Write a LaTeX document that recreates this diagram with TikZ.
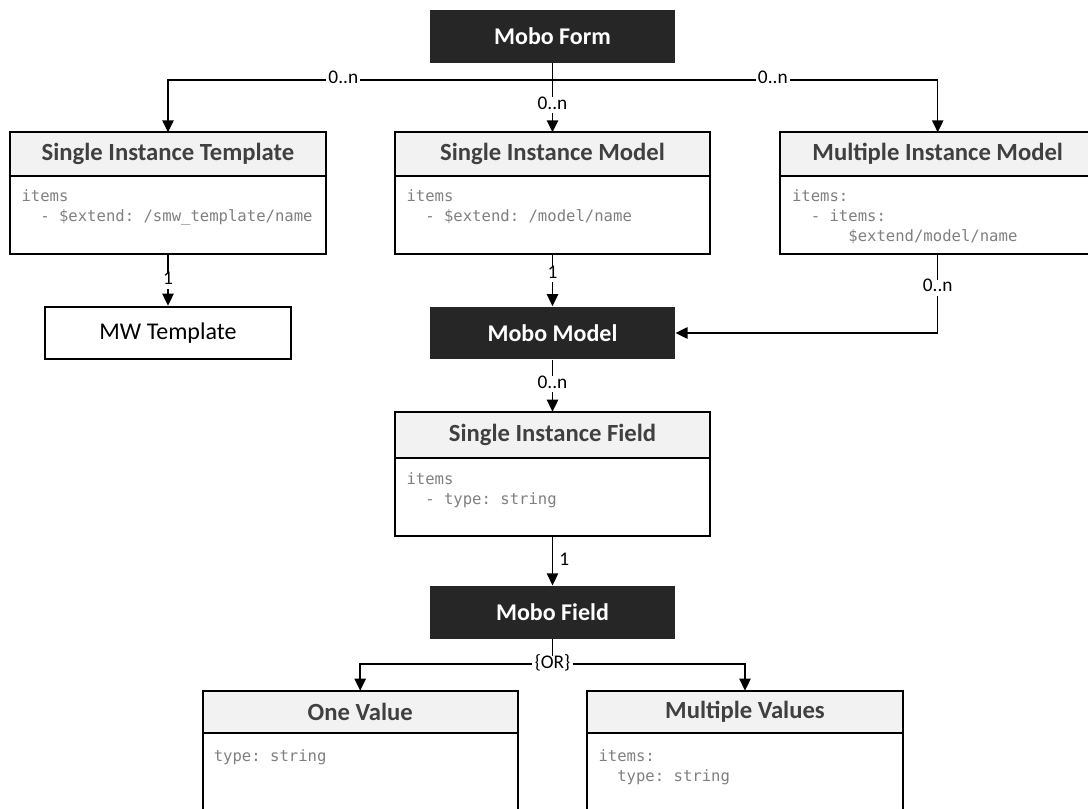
\documentclass[tikz,border=0pt]{standalone}
\usepackage{fontspec}
\setmainfont{Carlito}
\newfontfamily\codefont{DejaVu Sans Mono}
\usetikzlibrary{arrows.meta}
\frenchspacing
\definecolor{boxdark}{HTML}{262626}
\definecolor{headfill}{HTML}{F2F2F2}
\definecolor{headtext}{HTML}{404040}
\definecolor{codegray}{HTML}{7F7F7F}
\tikzset{every picture/.style={line width=0.75pt}}
\tikzset{
  darkbox/.style={fill=boxdark, text=white, font=\fontsize{18pt}{21pt}\selectfont\bfseries, minimum width=183.75pt, minimum height=39.45pt, inner sep=0pt},
  plainbox/.style={draw, line width=1.5pt, font=\fontsize{18pt}{21pt}\selectfont, minimum width=184pt, minimum height=39.45pt, inner sep=0pt},
  classhead/.style={draw, line width=1.5pt, fill=headfill, text=headtext, font=\fontsize{18.5pt}{21pt}\selectfont\bfseries, minimum width=236.5pt, minimum height=32.55pt, inner sep=0pt, outer sep=0pt},
  classbody/.style={draw, line width=1.5pt, minimum width=236.5pt, minimum height=59pt, inner sep=0pt, outer sep=0pt, anchor=north},
  codeline/.style={anchor=base west, inner sep=0pt, text=codegray, font=\codefont\fontsize{11.7pt}{15pt}\selectfont},
  conn/.style={line width=1.125pt, -{Triangle[length=9pt,width=8.5pt]}},
  plainline/.style={line width=1.125pt},
  cardlabel/.style={fill=white, inner xsep=1.5pt, inner ysep=0pt, text height=0.9em, text depth=0.3em, font=\fontsize{14.5pt}{17pt}\selectfont},
  cardside/.style={anchor=west, inner sep=0pt, xshift=4.5pt, font=\fontsize{14.5pt}{17pt}\selectfont},
}

\begin{document}
\begin{tikzpicture}[x=0.75pt,y=0.75pt,yscale=-1,xscale=1]
\useasboundingbox (0,0) rectangle (1088,809);
\clip (0,0) rectangle (1088,809);

%Shape: Rectangle
\node[darkbox] (form) at (552.5,36.35) {Mobo Form};
\coordinate (fork) at (552.5,80);

%Shape: Class Single Instance Template
\node[classhead] (sit) at (168,154) {Single Instance Template};
\node[classbody] (sitb) at (sit.south) {};
% Text Node
\node[codeline] (sitl1) at (21,201.7) {items};
\node[codeline] (sitl2) at (21,221.7) {\phantom{xx}- \$extend: /smw\_template/name};

%Shape: Class Single Instance Model
\node[classhead] (sim) at (552.5,154) {Single Instance Model};
\node[classbody] (simb) at (sim.south) {};
% Text Node
\node[codeline] (siml1) at (406,201.7) {items};
\node[codeline] (siml2) at (406,221.7) {\phantom{xx}- \$extend: /model/name};

%Shape: Class Multiple Instance Model
\node[classhead] (mim) at (937.7,154) {Multiple Instance Model};
\node[classbody] (mimb) at (mim.south) {};
% Text Node
\node[codeline] (miml1) at (791.5,201.7) {items:};
\node[codeline] (miml2) at (791.5,221.7) {\phantom{xx}- items:};
\node[codeline] (miml3) at (791.5,241.7) {\phantom{xxxxxx}\$extend/model/name};

%Shape: Rectangle
\node[plainbox] (mwt) at (168,333) {MW Template};
\node[darkbox] (model) at (552.5,333) {Mobo Model};

%Shape: Class Single Instance Field
\node[classhead, minimum height=34.5pt] (sif) at (552.5,434.7) {Single Instance Field};
\node[classbody, minimum height=58.7pt] (sifb) at (sif.south) {};
% Text Node
\node[codeline] (sifl1) at (406,484) {items};
\node[codeline] (sifl2) at (406,504) {\phantom{xx}- type: string};

%Shape: Rectangle
\node[darkbox] (field) at (552.5,612.2) {Mobo Field};
\node[cardlabel] (orsplit) at (552.5,664) {\{OR\}};

%Shape: Class One Value
\node[classhead, minimum height=32pt] (ov) at (360.2,712) {One Value};
\node[classbody, minimum height=100pt] (ovb) at (ov.south) {};
% Text Node
\node[codeline] (ovl1) at (213.3,761) {type: string};

%Shape: Class Multiple Values
\node[classhead, minimum height=32pt] (mv) at (745,712) {Multiple Values};
\node[classbody, minimum height=100pt] (mvb) at (mv.south) {};
% Text Node
\node[codeline] (mvl1) at (598,761.7) {items:};
\node[codeline] (mvl2) at (598,781.7) {\phantom{xx}type: string};

%Straight Lines
\draw[conn] (form.south) -- node[cardlabel, pos=0.61] {0..n} (sim.north);
\draw[conn] (fork) -| node[cardlabel, pos=0.272] {0..n} (sit.north);
\draw[conn] (fork) -| node[cardlabel, pos=0.286] {0..n} (mim.north);
\draw[conn] (sitb.south) -- node[cardlabel, pos=0.51] {1} (mwt.north);
\draw[conn] (simb.south) -- node[cardlabel, pos=0.38] {1} (model.north);
\draw[conn] (mimb.south) |- node[cardlabel, pos=0.211] {0..n} (model.east);
\draw[conn] (model.south) -- node[cardlabel, pos=0.47] {0..n} (sif.north);
\draw[conn] (sifb.south) -- node[cardside, pos=0.47] {1} (field.north);
\draw[plainline] (field.south) -- (orsplit.north);
\draw[conn] (orsplit.west) -| (ov.north);
\draw[conn] (orsplit.east) -| (mv.north);

\end{tikzpicture}
\end{document}
